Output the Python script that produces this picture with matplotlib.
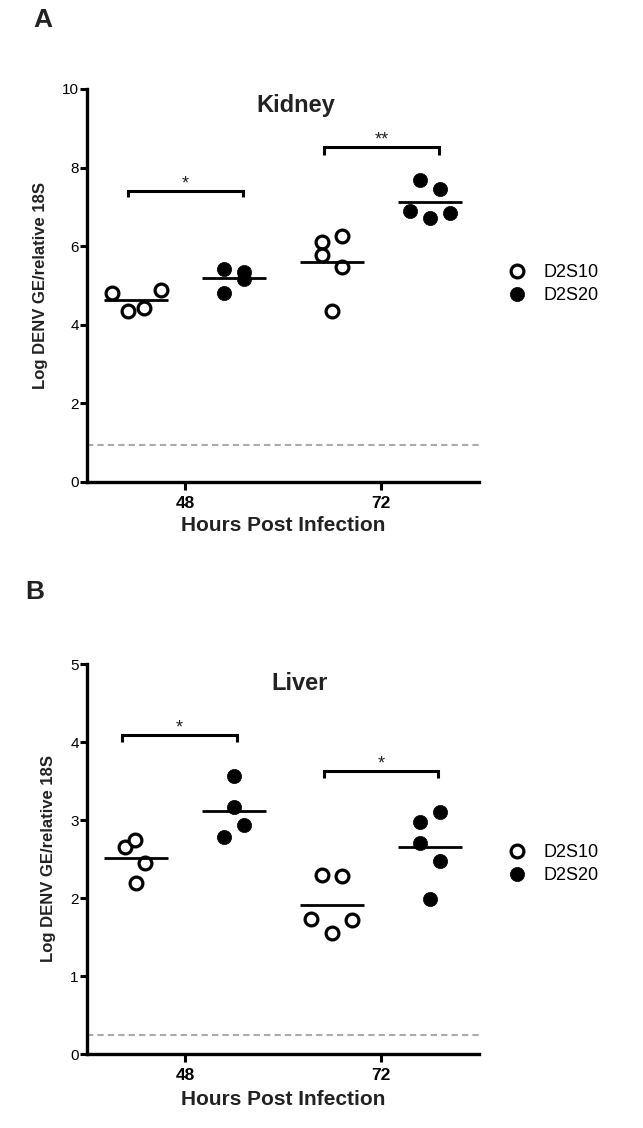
import numpy as np
import matplotlib
matplotlib.use('Agg')
import matplotlib.pyplot as plt
from matplotlib.lines import Line2D

plt.rcParams['font.family'] = ['Liberation Sans', 'DejaVu Sans']

# ---------------- data ----------------
timepoints = ['48', '72']
strains = ['D2S10', 'D2S20']

kidney_d2s10_48 = [4.82, 4.35, 4.44, 4.89]
kidney_d2s20_48 = [5.43, 5.35, 5.16, 4.80]
kidney_d2s10_72 = [6.11, 6.26, 5.77, 5.46, 4.34]
kidney_d2s20_72 = [7.68, 7.46, 6.90, 6.73, 6.84]

liver_d2s10_48 = [2.66, 2.75, 2.45, 2.19]
liver_d2s20_48 = [3.57, 3.17, 2.93, 2.78]
liver_d2s10_72 = [2.29, 2.28, 1.73, 1.72, 1.55]
liver_d2s20_72 = [3.10, 2.98, 2.70, 2.48, 1.99]

kidney_lod = 0.94
liver_lod = 0.24
kidney_sig = ['*', '**']
liver_sig = ['*', '*']

# ---------------- layout ----------------
kidney_offsets = [[-0.25, -0.08, 0.085, 0.255],
                  [-0.1, 0.1, 0.1, -0.1],
                  [-0.1, 0.1, -0.1, 0.1, 0.0],
                  [-0.1, 0.1, -0.2, 0.0, 0.2]]
liver_offsets = [[-0.11, -0.01, 0.09, 0.0],
                 [0.0, 0.0, 0.1, -0.1],
                 [-0.1, 0.1, -0.21, 0.2, 0.0],
                 [0.1, -0.1, -0.1, 0.1, 0.0]]
kidney_brackets = [(-0.08, 1.09, 7.41, 7.25), (1.92, 3.09, 8.52, 8.32)]
liver_brackets = [(-0.14, 1.03, 4.09, 4.00), (1.92, 3.08, 3.63, 3.54)]

W, H = 643, 1128
fig = plt.figure(figsize=(W / 100, H / 100), dpi=100)

def ax_rect(left, top, right, bottom):
    return [left / W, 1 - bottom / H, (right - left) / W, (bottom - top) / H]

axA = fig.add_axes(ax_rect(87, 89, 479, 482))
axB = fig.add_axes(ax_rect(87, 664, 479, 1054))

open_kw = dict(marker='o', ms=9.2, mfc='white', mec='black', mew=2.3, ls='none')
fill_kw = dict(marker='o', ms=10.2, mfc='black', mec='black', mew=0.5, ls='none')


def panel(ax, groups, offsets, brackets, sigs, lod, ymax, yticks, title,
          title_pos, xlabelpad):
    for i, (vals, offs) in enumerate(zip(groups, offsets)):
        kw = open_kw if i % 2 == 0 else fill_kw
        ax.plot(np.full(len(vals), i) + np.array(offs), vals, zorder=3, **kw)
        m = np.mean(vals)
        ax.plot([i - 0.33, i + 0.33], [m, m], color='black', lw=2.0,
                solid_capstyle='butt', zorder=4)
    for (x0, x1, y, yb), s in zip(brackets, sigs):
        ax.plot([x0, x0, x1, x1], [yb, y, y, yb], color='black', lw=2.2,
                solid_joinstyle='miter', solid_capstyle='butt', clip_on=False)
        ax.annotate(s, xy=((x0 + x1) / 2, y), xytext=(0, 2),
                    textcoords='offset points', ha='center', va='baseline',
                    fontsize=13, color='#222222')
    ax.axhline(lod, color='#aaaaaa', lw=1.5, ls=(0, (3, 2)), zorder=1)
    ax.set_xlim(-0.5, 3.5)
    ax.set_ylim(0, ymax)
    ax.set_yticks(yticks)
    ax.set_yticklabels([str(t) for t in yticks], fontsize=11)
    ax.set_xticks([0.5, 2.5])
    ax.set_xticklabels(timepoints, fontsize=12.5, fontweight='bold')
    for sp in ['top', 'right']:
        ax.spines[sp].set_visible(False)
    for sp in ['left', 'bottom']:
        ax.spines[sp].set_linewidth(2.4)
    ax.tick_params(axis='y', length=5, width=2.2, pad=1)
    ax.tick_params(axis='x', length=6, width=2.2, pad=4)
    ax.set_xlabel('Hours Post Infection', fontsize=15, fontweight='bold',
                  labelpad=xlabelpad, color='#222222')
    ax.set_ylabel('Log DENV GE/relative 18S', fontsize=12, fontweight='bold',
                  labelpad=10, color='#222222')
    ax.text(title_pos[0], title_pos[1], title, transform=ax.transAxes,
            ha='center', va='center', fontsize=17, fontweight='bold',
            color='#222222')


panel(axA, [kidney_d2s10_48, kidney_d2s20_48, kidney_d2s10_72, kidney_d2s20_72],
      kidney_offsets, kidney_brackets, kidney_sig, kidney_lod, 10,
      [0, 2, 4, 6, 8, 10], 'Kidney', (0.533, 0.957), 3.5)
panel(axB, [liver_d2s10_48, liver_d2s20_48, liver_d2s10_72, liver_d2s20_72],
      liver_offsets, liver_brackets, liver_sig, liver_lod, 5,
      [0, 1, 2, 3, 4, 5], 'Liver', (0.543, 0.951), 5)

handles = [Line2D([], [], **open_kw), Line2D([], [], **fill_kw)]
for yc in (284, 864):
    fig.legend(handles, strains, loc='center left',
               bbox_to_anchor=(497 / W, 1 - yc / H), frameon=False,
               fontsize=13, handlelength=1.2, handletextpad=0.9,
               labelspacing=0.35, borderpad=0)

fig.text(43 / W, 1 - 20 / H, 'A', fontsize=19, fontweight='bold',
         ha='center', va='center', color='#222222')
fig.text(35 / W, 1 - 592 / H, 'B', fontsize=19, fontweight='bold',
         ha='center', va='center', color='#222222')

fig.savefig('out.png', dpi=100)
